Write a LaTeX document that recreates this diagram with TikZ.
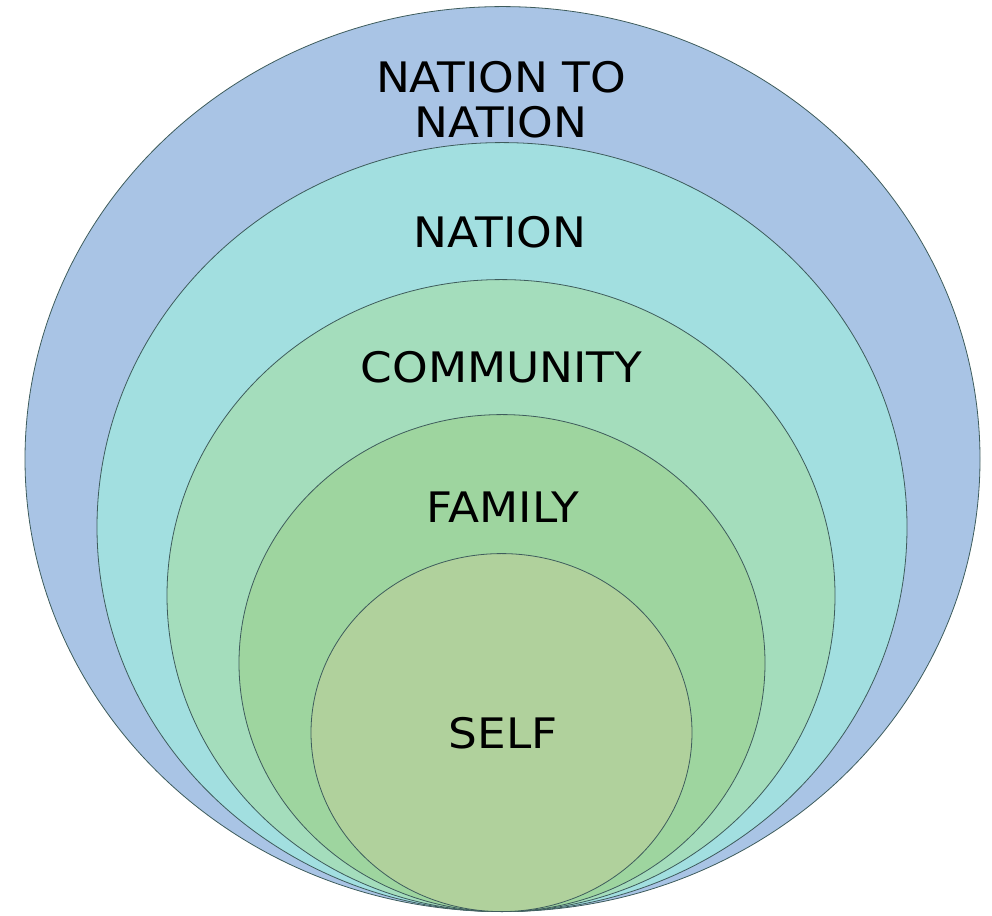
\documentclass[tikz,border=0pt]{standalone}
\usepackage{fontspec}
\setmainfont{DejaVu Sans}[FakeStretch=1.08]
\usepackage{tikz}
\usetikzlibrary{positioning, shapes.geometric}

\definecolor{ringA}{HTML}{A9C4E5}
\definecolor{ringB}{HTML}{A2DFE0}
\definecolor{ringC}{HTML}{A4DDBC}
\definecolor{ringD}{HTML}{9ED59F}
\definecolor{ringE}{HTML}{B0D19C}
\definecolor{ringline}{HTML}{3E5C5C}

\begin{document}
\begin{tikzpicture}[x=1pt, y=1pt,
    ring/.style={ellipse, draw=ringline, line width=0.8pt, inner sep=0pt, anchor=south},
    lbl/.style={font=\fontsize{42}{45}\selectfont, text=black, align=center, inner sep=0pt}]
	\useasboundingbox (0,0) rectangle (992,915);

	% rings, all touching at the bottom
	\node[ring, fill=ringA, minimum width=955, minimum height=905] (nationtonation) at (502.5,3) {};
	\node[ring, fill=ringB, minimum width=810, minimum height=769] (nation) at (502,3) {};
	\node[ring, fill=ringC, minimum width=668, minimum height=632] (community) at (501,3) {};
	\node[ring, fill=ringD, minimum width=526, minimum height=497] (family) at (502,3) {};
	\node[ring, fill=ringE, minimum width=381, minimum height=358] (self) at (501.5,3) {};

	% labels
	\node[lbl] (nationtonationlbl) at (501,815.5) {NATION TO\\NATION};
	\node[lbl] (nationlbl) at (500,683) {NATION};
	\node[lbl] (communitylbl) at (501.5,547.5) {COMMUNITY};
	\node[lbl] (familylbl) at (503,407.5) {FAMILY};
	\node[lbl] (selflbl) at (503,182) {SELF};
\end{tikzpicture}
\end{document}
